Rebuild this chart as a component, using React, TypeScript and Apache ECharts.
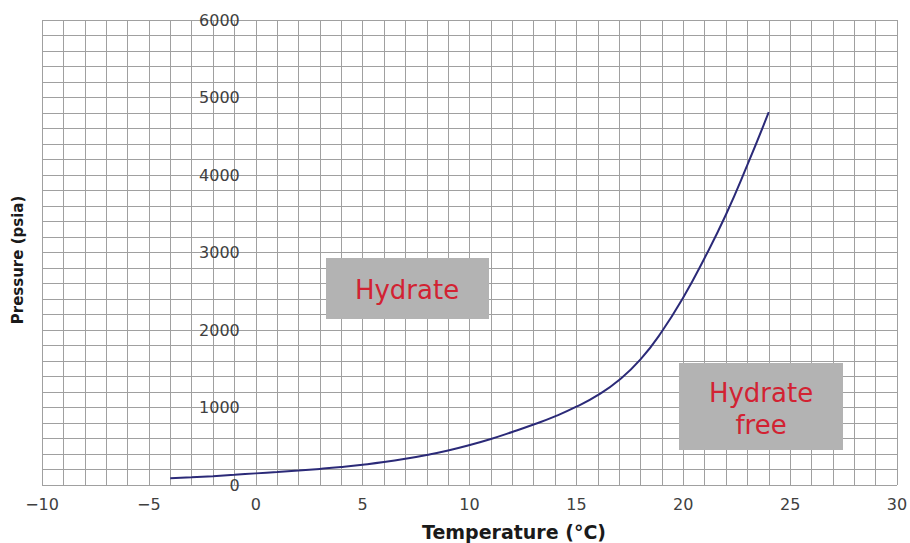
import React, { useEffect, useRef } from "react";
import * as echarts from "echarts";

// Hydrate equilibrium curve: temperature (°C) vs pressure (psia)
const temperatures = [-4, -3, -2, -1, 0, 1, 2, 3, 4, 5, 6, 7, 8, 9, 10, 11, 12, 13, 14, 15, 16, 17, 18, 19, 20, 21, 22, 23, 24];
const pressures = [88, 100, 114, 131, 150, 167, 186, 208, 233, 262, 296, 338, 388, 446, 515, 594, 684, 780, 885, 1010, 1160, 1355, 1620, 1980, 2420, 2930, 3490, 4130, 4810];

const xTicks = { min: -10, max: 30, step: 5 };
const yTicks = { min: 0, max: 6000, step: 1000 };

const regionLabels = ["Hydrate", "Hydrate\nfree"];
const xTitle = "Temperature (\u00b0C)";
const yTitle = "Pressure (psia)";

const W = 910;
const H = 543;
const GRID = { left: 42, right: 13, top: 20, bottom: 58 };

export default function App() {
  const ref = useRef<HTMLDivElement>(null);

  useEffect(() => {
    if (!ref.current) return;
    const chart = echarts.init(ref.current, undefined, { renderer: "svg" });
    const gridColor = "#a0a0a0";
    const font = "'DejaVu Sans', Verdana, sans-serif";

    // The pressure axis sits on the line x = 0 of the temperature axis.
    const plotWidth = W - GRID.left - GRID.right;
    const zeroOffset = -((0 - xTicks.min) / (xTicks.max - xTicks.min)) * plotWidth;

    chart.setOption({
      animation: false,
      backgroundColor: "#ffffff",
      grid: { ...GRID, containLabel: false, outerBoundsMode: "none" },
      xAxis: {
        type: "value",
        min: xTicks.min,
        max: xTicks.max,
        interval: xTicks.step,
        axisLine: { show: false },
        axisTick: { show: false },
        minorTick: { show: false, splitNumber: 5 },
        splitLine: { show: true, lineStyle: { color: gridColor, width: 1 } },
        minorSplitLine: { show: true, lineStyle: { color: gridColor, width: 1 } },
        axisLabel: {
          margin: 11,
          fontSize: 16,
          color: "#404040",
          fontFamily: font,
          formatter: (v: number) => (v < 0 ? "\u2212" + Math.abs(v) : String(v)),
        },
      },
      yAxis: {
        type: "value",
        min: yTicks.min,
        max: yTicks.max,
        interval: yTicks.step,
        offset: zeroOffset,
        axisLine: { show: false, onZero: false },
        axisTick: { show: false },
        minorTick: { show: false, splitNumber: 5 },
        splitLine: { show: true, lineStyle: { color: gridColor, width: 1 } },
        minorSplitLine: { show: true, lineStyle: { color: gridColor, width: 1 } },
        axisLabel: {
          margin: 16,
          fontSize: 16,
          color: "#404040",
          fontFamily: font,
          formatter: (v: number) => String(v),
        },
      },
      series: [
        {
          type: "line",
          data: temperatures.map((t, i) => [t, pressures[i]]),
          smooth: true,
          showSymbol: false,
          lineStyle: { color: "#2b2a78", width: 2 },
          z: 5,
        },
      ],
      graphic: [
        {
          type: "rect",
          shape: { x: 326, y: 258, width: 163, height: 61 },
          style: { fill: "#b3b3b3" },
          z: 10,
        },
        {
          type: "text",
          x: 407,
          y: 290,
          style: {
            text: regionLabels[0],
            fill: "#d22232",
            font: `26px ${font}`,
            textAlign: "center",
            textVerticalAlign: "middle",
          },
          z: 11,
        },
        {
          type: "rect",
          shape: { x: 679, y: 363, width: 164, height: 87 },
          style: { fill: "#b3b3b3" },
          z: 10,
        },
        {
          type: "text",
          x: 761,
          y: 409,
          style: {
            text: regionLabels[1],
            fill: "#d22232",
            font: `26px ${font}`,
            lineHeight: 32,
            textAlign: "center",
            textVerticalAlign: "middle",
          },
          z: 11,
        },
        {
          type: "text",
          x: 18,
          y: 260,
          rotation: Math.PI / 2,
          style: {
            text: yTitle,
            fill: "#1a1a1a",
            font: `bold 15px ${font}`,
            textAlign: "center",
            textVerticalAlign: "middle",
          },
        },
        {
          type: "text",
          x: 514,
          y: 532,
          style: {
            text: xTitle,
            fill: "#1a1a1a",
            font: `bold 19px ${font}`,
            textAlign: "center",
            textVerticalAlign: "middle",
          },
        },
      ],
    });

    return () => chart.dispose();
  }, []);

  return (
    <div
      ref={ref}
      style={{ position: "fixed", left: 0, top: 0, width: W, height: H, background: "#fff" }}
    />
  );
}
